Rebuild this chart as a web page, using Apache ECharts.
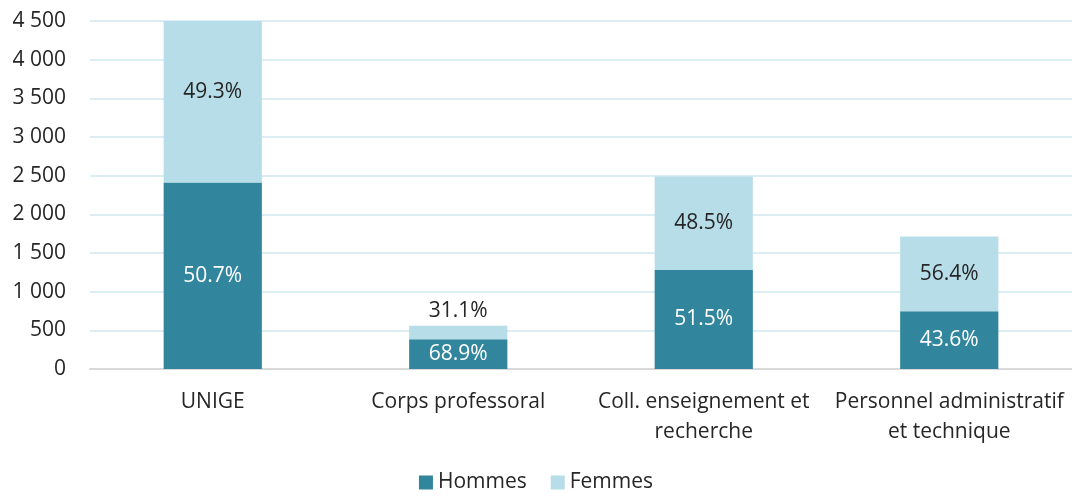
<!DOCTYPE html>
<html>
<head>
<meta charset="utf-8">
<script src="https://cdn.jsdelivr.net/npm/echarts@6/dist/echarts.min.js"></script>
<style>
  html, body { margin: 0; padding: 0; background: #ffffff; }
  #chart { width: 1072px; height: 496px; }
</style>
</head>
<body>
<div id="chart"></div>
<script>
// Staff headcount by category, split by gender
const categories = ['UNIGE', 'Corps professoral', 'Coll. enseignement et\nrecherche', 'Personnel administratif\net technique'];
const totals = [4755, 560, 2488, 1712];
const hommesPct = [50.7, 68.9, 51.5, 43.6];
const femmesPct = [49.3, 31.1, 48.5, 56.4];
const yTicks = [0, 500, 1000, 1500, 2000, 2500, 3000, 3500, 4000, 4500];

const hommesVals = totals.map((t, i) => t * hommesPct[i] / 100);
const femmesVals = totals.map((t, i) => t * femmesPct[i] / 100);

const FONT = '"Open Sans", "Noto Sans", sans-serif';
const yMax = yTicks[yTicks.length - 1];

const chart = echarts.init(document.getElementById('chart'), null, { renderer: 'canvas' });

function fmtThousands(v) {
  return String(v).replace(/\B(?=(\d{3})+(?!\d))/g, ' ');
}

const option = {
  animation: false,
  textStyle: { fontFamily: FONT },
  grid: { left: 90, right: 0, top: 21, bottom: 127, containLabel: false },
  legend: {
    data: ['Hommes', 'Femmes'],
    top: 472,
    left: 'center',
    padding: [0, 5],
    itemWidth: 14,
    itemHeight: 14,
    itemGap: 24,
    icon: 'rect',
    textStyle: { fontSize: 21, color: '#262626', fontFamily: FONT }
  },
  xAxis: {
    type: 'category',
    data: categories,
    axisLine: { lineStyle: { color: '#d9d9d9', width: 2 } },
    axisTick: { show: false },
    axisLabel: {
      color: '#262626',
      fontSize: 21,
      lineHeight: 30,
      margin: 18,
      interval: 0,
      fontFamily: FONT
    }
  },
  yAxis: {
    type: 'value',
    min: 0,
    max: yMax,
    interval: 500,
    axisLine: { show: false },
    axisTick: { show: false },
    splitLine: { lineStyle: { color: '#dcedf4', width: 2 } },
    axisLabel: {
      color: '#262626',
      fontSize: 21,
      margin: 24,
      fontFamily: FONT,
      formatter: v => fmtThousands(v)
    }
  },
  series: [
    {
      name: 'Hommes',
      type: 'bar',
      stack: 'total',
      barWidth: '40%',
      itemStyle: { color: '#31859c' },
      label: {
        show: true,
        position: 'inside',
        color: '#ffffff',
        fontSize: 21,
        fontFamily: FONT,
        formatter: p => hommesPct[p.dataIndex].toFixed(1) + '%'
      },
      data: hommesVals
    },
    {
      name: 'Femmes',
      type: 'bar',
      stack: 'total',
      barWidth: '40%',
      itemStyle: { color: '#b7dde8' },
      label: {
        show: true,
        position: 'inside',
        color: '#262626',
        fontSize: 21,
        fontFamily: FONT,
        formatter: p => femmesPct[p.dataIndex].toFixed(1) + '%'
      },
      // Centre each label on the full (unclipped) segment
      labelLayout: p => {
        const i = p.dataIndex;
        if (totals[i] <= yMax) return {};
        const y0 = chart.convertToPixel({ yAxisIndex: 0 }, hommesVals[i]);
        const y1 = chart.convertToPixel({ yAxisIndex: 0 }, totals[i]);
        return {
          x: p.rect.x + p.rect.width / 2,
          y: (y0 + y1) / 2,
          align: 'center',
          verticalAlign: 'middle'
        };
      },
      data: femmesVals.map((v, i) => (
        femmesVals[i] < 300
          ? { value: v, label: { position: 'top', distance: 4 } }
          : v
      ))
    }
  ]
};

chart.setOption(option);
</script>
</body>
</html>
